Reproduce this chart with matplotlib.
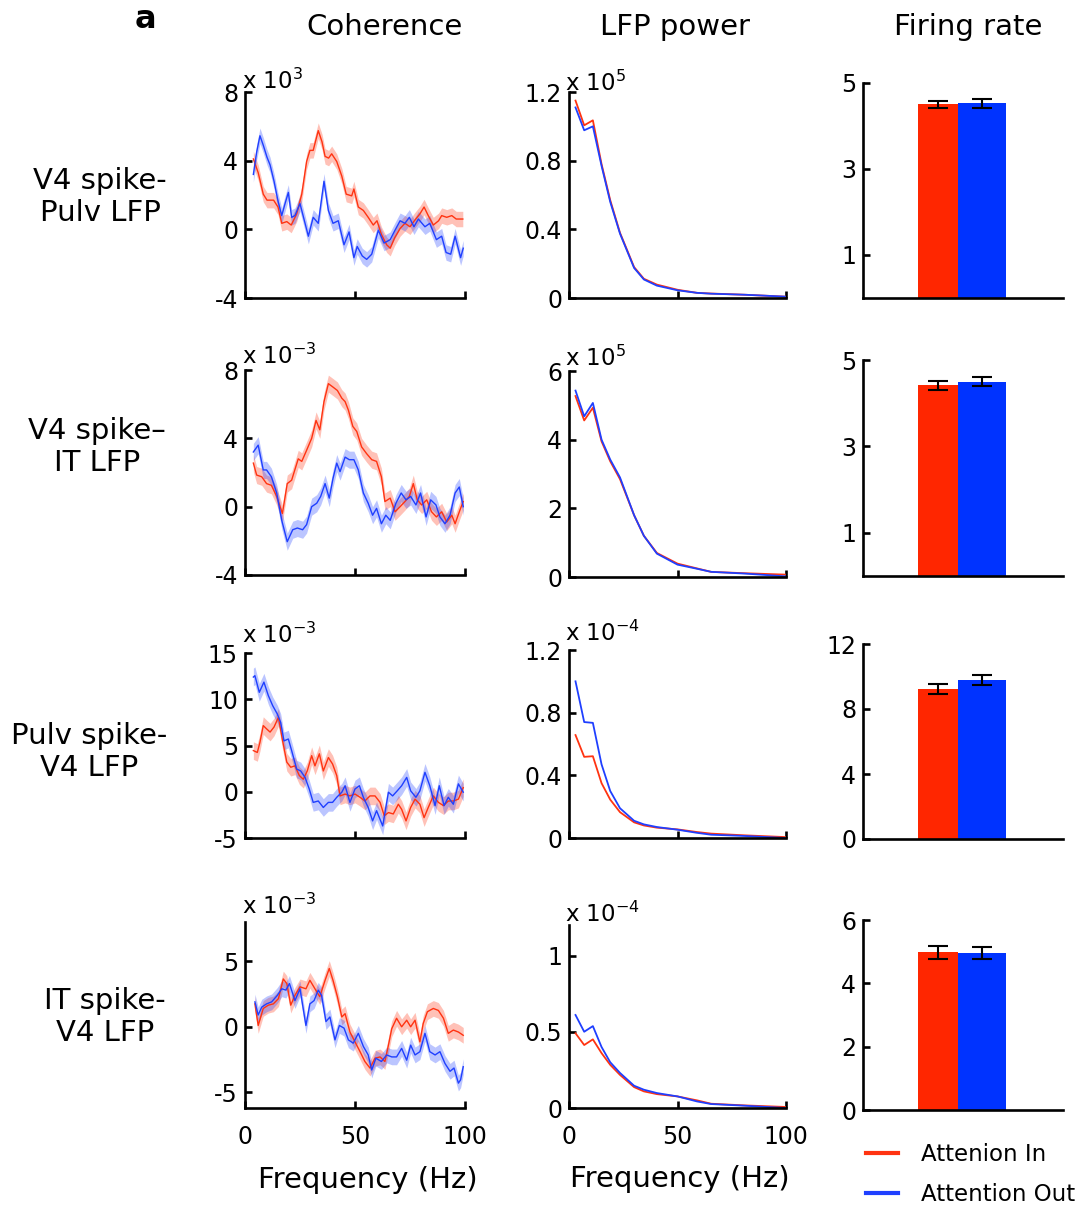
import matplotlib
matplotlib.use("Agg")
import matplotlib.pyplot as plt
from matplotlib.lines import Line2D
import numpy as np

W, H = 1087, 1211

# ---------------- data ----------------
# Coherence (x 1e-3 units as displayed), Attention In (red) and Out (blue)
coh1_in_f = [3.8,6,8.3,10,13,15,16.7,19,21,23.5,25.8,28,29.5,31,33.3,35,36.4,38,39.4,41.7,44,46,48.5,49.5,51.5,53.8,56,58.3,60,62,64.4,66,68,70.5,72.7,75,77,79.5,81.4,83.3,85.6,88,89.4,91.7,94,96,99]
coh1_in = [4.1,3.3,2.05,1.7,1.7,1.3,0.35,0.45,0.25,0.9,2.05,3.95,4.6,4.6,5.75,5.1,4.25,4.15,4.4,3.95,3.1,2.05,1.95,2.35,1.3,1.1,0.7,0.25,0.5,-0.3,-0.9,-1.1,-0.5,0.05,0.35,0.15,0.5,0.9,1.3,0.8,0.25,0.5,0.8,0.7,0.8,0.6,0.6]
coh1_out_f = [3.8,5.3,6.8,8.3,10,11.4,13.2,15,16.7,18.2,19.7,21.2,22.7,25,26.8,28.8,31,33.3,35.9,37.9,40,42.4,45,47.3,49.5,51,53.3,55.3,57.6,60.6,63.2,66,68.2,70.5,72.7,74.7,76.8,78.8,81.8,84,87,89.4,91.4,93.5,95.5,98,99.2]
coh1_out = [3.2,4.5,5.45,4.9,4.2,3.75,2.8,1.65,0.8,1.5,2.15,0.7,0.8,1.5,0.6,-0.4,0.7,0.35,2.8,1.1,0.35,0.5,-0.9,-0.15,-1.65,-1.0,-1.55,-1.75,-1.45,-0.05,-0.8,-0.6,-0.05,0.5,0.35,0.7,0.15,0.6,0.15,0.35,-0.6,-0.4,-1.35,-1.45,-0.4,-1.65,-1.1]

coh2_in_f = [3.8,5.3,7.6,9.8,12,14.4,17,19.2,21.2,24.2,25.8,28,30.3,32.3,34,35.9,37.9,40,42,44,45.5,47,49,50.8,53,55.3,57.6,59.8,62,63.6,66,68.2,70.5,72.7,74.7,76.5,78.3,80.3,82.6,84.8,87,89.4,91.7,94,95.5,97.7,99.2]
coh2_in = [2.55,1.85,1.75,1.35,1.25,0.6,-0.4,1.35,1.55,2.8,2.65,3.3,4.0,5.05,4.5,6.15,7.2,7.0,6.8,6.35,6.15,5.65,4.7,4.4,3.5,3.1,2.75,2.65,1.75,0.3,0.5,-0.3,0.0,0.3,0.6,1.35,0.4,0.1,0.4,-0.3,-0.6,-0.3,-0.9,-0.5,-1.0,-0.2,0.3]
coh2_out_f = [3.8,6,8.3,9.8,12,14.4,16.7,19.2,21.7,23.8,26.2,28,30.3,32.6,34.4,36.4,38.3,40,41.7,43.2,45.5,47.4,49.5,51.5,53.8,56,58,59.8,62,64,66,68.6,71,73.2,75.3,77.7,79.8,82.3,84.4,86.8,88.6,90.9,93.2,95.5,97.4,99.2]
coh2_out = [3.2,3.6,2.15,2.15,1.75,0.8,-0.8,-2.05,-1.35,-1.25,-1.35,-1.05,0.0,0.2,0.6,1.35,0.5,1.65,2.55,2.05,2.9,2.75,2.75,2.15,0.8,0.2,-0.5,-0.1,-1.0,-0.5,-0.8,0.2,0.8,0.4,0.6,0.1,0.8,-0.6,0.4,0.1,-0.6,-1.0,-0.5,0.8,1.15,0.0]

coh3_in_f = [3.8,5.6,6.8,8.3,9.8,11.4,13.2,15.2,17.1,19,20.8,22.7,24.7,26.5,28.3,30.3,31.8,33.8,35.6,37.9,39.8,41.7,43.2,45.5,47.7,50,52.3,54.5,56.8,59.1,61.4,63.3,65.2,67.4,69.7,71.2,73.2,75.3,77.3,79.5,81.4,83.3,85.6,87.9,90.2,92.4,94.7,97,99.2]
coh3_in = [4.45,4.25,5.35,7.15,6.8,6.45,7.0,8.05,5.5,3.2,2.65,2.8,1.75,1.35,2.25,3.9,2.8,4.1,2.25,3.7,3.0,1.75,-0.45,-0.25,-0.45,-0.25,-0.6,-1.0,-0.45,-0.45,-1.15,-2.6,-2.25,-2.4,-1.35,-1.9,-3.15,-1.7,-0.8,-1.35,-2.8,-1.7,-0.45,-1.15,-1.5,-1.0,-1.0,-0.8,0.45]
coh3_out_f = [3.8,4.5,6.5,8.6,10.6,12.6,14.7,16.2,17.7,19.7,21.2,23.5,25.3,27.3,29.2,31,33.3,35.6,37.9,39.8,41.7,44,45.5,47.7,50,52,53.8,56,58,59.8,62.6,65.2,67.1,69.2,71.2,73.5,75.3,77.7,79.5,81.8,84,86.4,88.3,90.5,92.4,94.7,97,99.2]
coh3_out = [12.4,12.55,10.75,11.85,10.4,9.3,8.4,7.5,5.5,5.7,4.45,2.45,2.25,1.55,0.3,-1.15,-1.0,-1.7,-1.15,-1.15,-0.6,-0.05,0.65,-1.15,0.3,0.65,-0.6,-1.7,-3.15,-2.05,-3.7,-0.05,-0.45,0.1,0.65,1.55,0.1,-0.6,0.1,2.1,0.65,-1.5,0.65,-1.5,-0.6,-1.35,0.85,-0.05]

coh4_in_f = [4.5,6,8.3,10.6,12.9,15.2,17.4,19,20.8,22.7,25,27.7,29.5,31.8,34,36.4,38.3,40,42,44,45.5,47.7,50,52.3,54.5,56.8,59.1,61.4,63.6,65.2,66.7,68.9,71.2,73.5,75.3,77.3,79.5,81,82.9,85.6,87.9,90.2,92.4,94.7,97,99.2]
coh4_in = [1.75,0.1,1.4,1.65,1.75,2.15,3.65,3.3,1.65,2.4,3.05,2.9,3.55,2.9,2.3,3.55,4.45,3.55,2.3,0.75,1.0,-0.4,-1.15,-1.9,-2.65,-3.15,-2.4,-2.3,-2.65,-1.4,-0.15,0.65,0.0,0.5,0.0,0.5,-1.15,0.25,1.15,1.4,1.25,0.65,-0.5,-0.25,-0.4,-0.65]
coh4_out_f = [4.5,6,7.6,9.8,12.1,14.7,16.7,18.6,20.2,22.7,25,27.7,29.5,31.4,33.3,34.8,36.8,38.6,40.9,42.9,45,47,49.2,51.5,53.8,56,57.6,59.5,62,64.4,66.7,68.9,71.2,73.5,75.3,77.3,79.5,81.8,84,86.4,88.6,90.9,93.2,95,97,98,99.2]
coh4_out = [1.9,0.9,1.5,1.75,1.9,2.4,2.9,2.8,3.3,2.0,2.9,0.1,1.75,2.0,2.8,2.4,0.4,0.75,-1.0,0.1,-0.1,-1.0,-1.25,-0.5,-1.5,-2.15,-3.3,-2.4,-2.65,-2.15,-2.3,-2.3,-1.65,-2.55,-1.4,-2.15,-1.9,-0.5,-1.9,-2.15,-1.9,-2.8,-3.4,-3.15,-4.3,-4.05,-3.05]

# SEM half-widths of the shaded bands, per panel
coh_sem_in = [0.45, 0.5, 0.95, 0.6]
coh_sem_out = [0.45, 0.5, 0.95, 0.6]

# LFP power (in displayed units)
lfp_f = [3, 7, 11, 15, 19, 23.5, 30, 34.5, 40.5, 50, 59, 65.5, 81, 99.5]
lfp1_in = [1.15, 1.006, 1.035, 0.78, 0.57, 0.38, 0.18, 0.112, 0.078, 0.048, 0.03, 0.026, 0.019, 0.008]
lfp1_out = [1.11, 0.977, 1.0, 0.77, 0.56, 0.375, 0.175, 0.108, 0.072, 0.045, 0.03, 0.025, 0.019, 0.008]
lfp2_in = [5.27, 4.56, 4.93, 3.95, 3.37, 2.85, 1.8, 1.2, 0.7, 0.39, 0.25, 0.15, 0.11, 0.07]
lfp2_out = [5.43, 4.68, 5.07, 4.0, 3.42, 2.9, 1.8, 1.2, 0.68, 0.36, 0.24, 0.15, 0.1, 0.02]
lfp3_in = [0.657, 0.518, 0.522, 0.35, 0.245, 0.165, 0.10, 0.08, 0.066, 0.055, 0.038, 0.028, 0.017, 0.006]
lfp3_out = [1.0, 0.74, 0.735, 0.47, 0.30, 0.19, 0.11, 0.087, 0.07, 0.053, 0.033, 0.021, 0.013, 0.0]
lfp4_in = [0.49, 0.413, 0.45, 0.36, 0.283, 0.217, 0.137, 0.109, 0.091, 0.076, 0.05, 0.028, 0.017, 0.007]
lfp4_out = [0.61, 0.50, 0.537, 0.40, 0.30, 0.23, 0.146, 0.12, 0.098, 0.076, 0.043, 0.026, 0.015, 0.0]

# Firing rate (Hz)
fr_in = [4.51, 4.41, 9.22, 4.98]
fr_in_err = [0.08, 0.10, 0.30, 0.21]
fr_out = [4.53, 4.50, 9.77, 4.95]
fr_out_err = [0.10, 0.11, 0.32, 0.19]

row_labels = ["V4 spike-\nPulv LFP", "V4 spike\u2013\nIT LFP", "Pulv spike-\nV4 LFP", "IT spike-\nV4 LFP"]
col_titles = ["Coherence", "LFP power", "Firing rate"]
coh_mult = ["x 10$^{3}$", "x 10$^{-3}$", "x 10$^{-3}$", "x 10$^{-3}$"]
lfp_mult = ["x 10$^{5}$", "x 10$^{5}$", "x 10$^{-4}$", "x 10$^{-4}$"]
legend_labels = ["Attenion In", "Attention Out"]

# ---------------- style ----------------
RED_L = "#FF3311"
BLUE_L = "#1F3FFF"
RED_B = "#FF2600"
BLUE_B = "#0033FF"
plt.rcParams['font.family'] = ['DejaVu Sans']
plt.rcParams['axes.unicode_minus'] = False

fig = plt.figure(figsize=(W / 100, H / 100), dpi=100)

def rect(x0, x1, yt, yb):
    return [x0 / W, 1 - yb / H, (x1 - x0) / W, (yb - yt) / H]

coh_rows = [(92, 298), (370, 575), (653, 838), (922, 1108)]
lfp_rows = [(92, 298), (371, 577), (650, 838), (925, 1108)]
bar_rows = [(83, 298), (360, 576), (644, 839), (920, 1110)]

coh_lims = [(-4, 8), (-4, 8), (-5, 15), (-6.2, 8)]
coh_ticks = [[-4, 0, 4, 8], [-4, 0, 4, 8], [-5, 0, 5, 10, 15], [-5, 0, 5]]
lfp_lims = [(0, 1.2), (0, 6), (0, 1.2), (0, 1.2)]
lfp_ticks = [[0, 0.4, 0.8, 1.2], [0, 2, 4, 6], [0, 0.4, 0.8, 1.2], [0, 0.5, 1]]
lfp_ticklabels = [["0", "0.4", "0.8", "1.2"], ["0", "2", "4", "6"], ["0", "0.4", "0.8", "1.2"], ["0", "0.5", "1"]]
bar_lims = [(0, 5), (0, 5), (0, 12), (0, 6)]
bar_ticks = [[1, 3, 5], [1, 3, 5], [0, 4, 8, 12], [0, 2, 4, 6]]

coh_in_f = [coh1_in_f, coh2_in_f, coh3_in_f, coh4_in_f]
coh_in = [coh1_in, coh2_in, coh3_in, coh4_in]
coh_out_f = [coh1_out_f, coh2_out_f, coh3_out_f, coh4_out_f]
coh_out = [coh1_out, coh2_out, coh3_out, coh4_out]
lfp_in = [lfp1_in, lfp2_in, lfp3_in, lfp4_in]
lfp_out = [lfp1_out, lfp2_out, lfp3_out, lfp4_out]

TICK_FS = 17
BIG_FS = 21
MULT_FS = 16.5
SPW = 1.9

def style(ax):
    for s in ["top", "right"]:
        ax.spines[s].set_visible(False)
    for s in ["left", "bottom"]:
        ax.spines[s].set_linewidth(SPW)
    ax.tick_params(direction="in", length=5, width=SPW, labelsize=TICK_FS, pad=5)

coh_mult_base = [89, 364, 643, 914]
lfp_mult_base = [91, 366, 641, 922]

for r in range(4):
    # coherence
    ax = fig.add_axes(rect(245, 465, *coh_rows[r]))
    style(ax)
    fi = np.array(coh_in_f[r]); vi = np.array(coh_in[r])
    fo = np.array(coh_out_f[r]); vo = np.array(coh_out[r])
    ax.fill_between(fi, vi - coh_sem_in[r], vi + coh_sem_in[r], color=RED_L, alpha=0.3, lw=0)
    ax.fill_between(fo, vo - coh_sem_out[r], vo + coh_sem_out[r], color=BLUE_L, alpha=0.3, lw=0)
    ax.plot(fi, vi, color=RED_L, lw=1.0)
    ax.plot(fo, vo, color=BLUE_L, lw=1.0)
    ax.set_xlim(0, 100)
    ax.set_ylim(*coh_lims[r])
    ax.set_yticks(coh_ticks[r])
    ax.set_xticks([0, 50, 100])
    if r < 3:
        ax.set_xticklabels([])
    else:
        ax.tick_params(axis="x", pad=12)
        ax.set_xlabel("Frequency (Hz)", fontsize=BIG_FS)
        ax.xaxis.set_label_coords(0.56, -0.31)
    fig.text(242 / W, 1 - coh_mult_base[r] / H, coh_mult[r], fontsize=MULT_FS, ha="left", va="baseline")

    # LFP power
    ax = fig.add_axes(rect(569, 786, *lfp_rows[r]))
    style(ax)
    ax.plot(lfp_f, lfp_in[r], color=RED_L, lw=1.3)
    ax.plot(lfp_f, lfp_out[r], color=BLUE_L, lw=1.3)
    ax.set_xlim(0, 100)
    ax.set_ylim(*lfp_lims[r])
    ax.set_yticks(lfp_ticks[r])
    ax.set_yticklabels(lfp_ticklabels[r])
    ax.set_xticks([0, 50, 100])
    if r < 3:
        ax.set_xticklabels([])
    else:
        ax.tick_params(axis="x", pad=12)
        ax.set_xlabel("Frequency (Hz)", fontsize=BIG_FS)
        ax.xaxis.set_label_coords(0.51, -0.31)
    fig.text(565 / W, 1 - lfp_mult_base[r] / H, lfp_mult[r], fontsize=MULT_FS, ha="left", va="baseline")

    # Firing rate
    ax = fig.add_axes(rect(863, 1063, *bar_rows[r]))
    style(ax)
    ax.bar([3.75], [fr_in[r]], width=2.0, color=RED_B, yerr=[fr_in_err[r]],
           error_kw=dict(ecolor="black", elinewidth=1.5, capsize=7, capthick=1.5))
    ax.bar([5.95], [fr_out[r]], width=2.4, color=BLUE_B, yerr=[fr_out_err[r]],
           error_kw=dict(ecolor="black", elinewidth=1.5, capsize=7, capthick=1.5))
    ax.set_xlim(0, 10)
    ax.set_ylim(*bar_lims[r])
    ax.set_yticks(bar_ticks[r])
    ax.set_xticks([])

# row labels
row_lab_pos = [(100, 197), (97, 447), (89, 752), (105, 1017)]
for lab, (x, y) in zip(row_labels, row_lab_pos):
    fig.text(x / W, 1 - y / H, lab, ha="center", va="center", multialignment="center", fontsize=BIG_FS)

# column titles
for t, x in zip(col_titles, [384, 675, 968]):
    fig.text(x / W, 1 - 27 / H, t, ha="center", va="center", fontsize=BIG_FS)

fig.text(145 / W, 1 - 20 / H, "a", ha="center", va="center", fontsize=23, fontweight="bold")

handles = [Line2D([], [], color=RED_L, lw=3), Line2D([], [], color=BLUE_L, lw=3)]
fig.legend(handles, legend_labels, loc="upper left", bbox_to_anchor=(866 / W, 1 - 1143 / H),
           frameon=False, fontsize=16.5, handlelength=1.4, handletextpad=1.0,
           labelspacing=0.75, borderpad=0, borderaxespad=0)

fig.savefig("out.png", dpi=100)
